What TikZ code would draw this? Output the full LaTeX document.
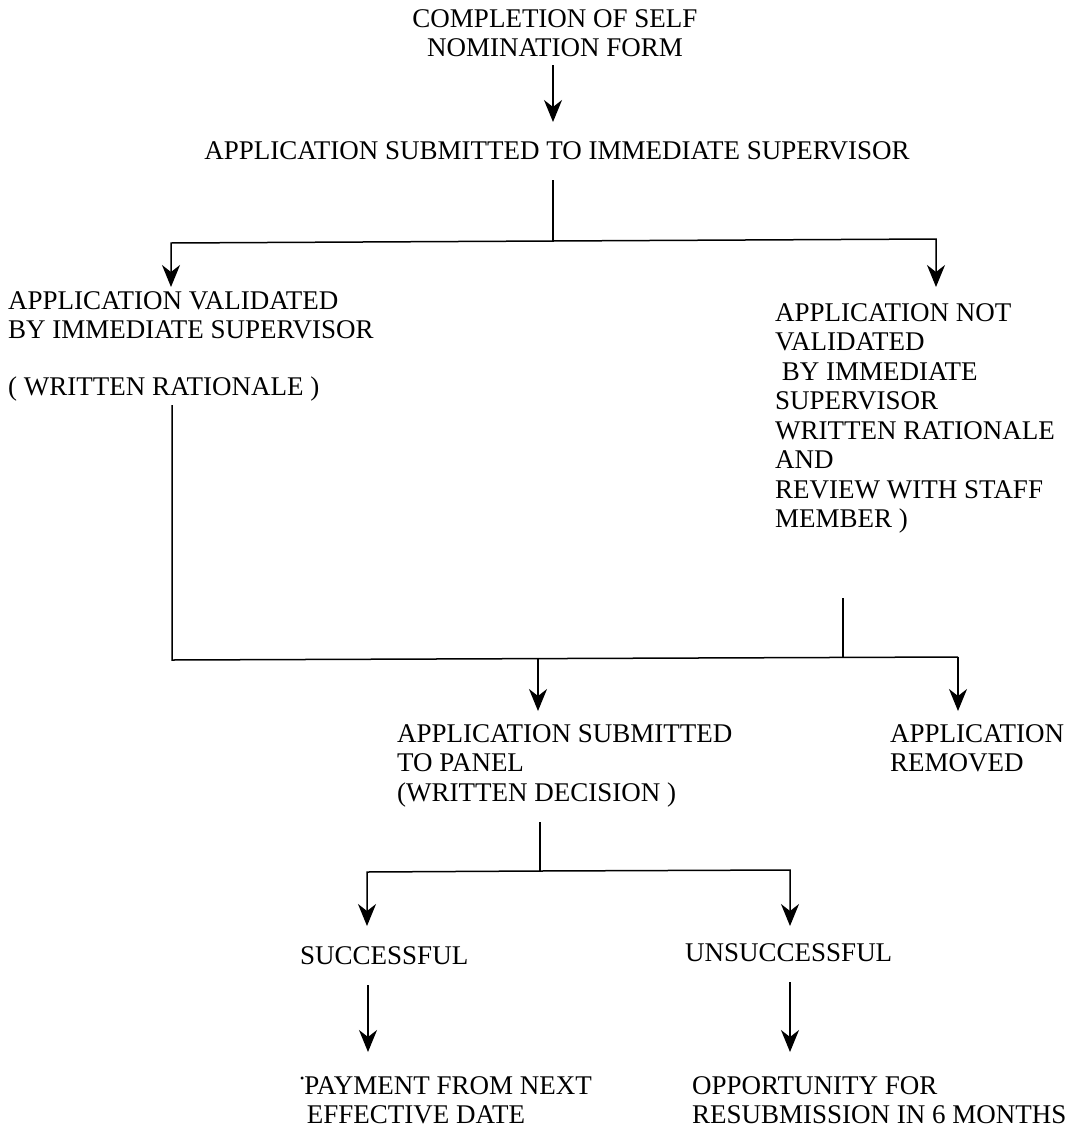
\documentclass[tikz,border=0pt]{standalone}
\usepackage{fontspec}
\setmainfont{Liberation Serif}
\usetikzlibrary{arrows.meta}
\begin{document}
\begin{tikzpicture}[x=1pt,y=-1pt,
  lbl/.style={inner sep=0pt,anchor=north west,align=left,font=\fontsize{27}{29.5}\selectfont},
  lblc/.style={inner sep=0pt,anchor=north,align=center,font=\fontsize{27}{29.5}\selectfont},
  ln/.style={line width=1.5pt},
  arr/.style={line width=1.5pt,-{Stealth[length=22pt,width=18pt,inset=7pt]}}]
\useasboundingbox (0,0) rectangle (1074,1130);
% nodes
\node[lblc] (n1) at (555,9) {COMPLETION OF SELF\\NOMINATION FORM};
\node[lblc] (n2) at (557,141) {APPLICATION SUBMITTED TO IMMEDIATE SUPERVISOR};
\node[lbl] (n3) at (8,291) {APPLICATION VALIDATED\\BY IMMEDIATE SUPERVISOR\\[27pt]( WRITTEN RATIONALE )};
\node[lbl] (n4) at (775,303) {APPLICATION NOT\\VALIDATED\\\ BY IMMEDIATE\\SUPERVISOR\\WRITTEN RATIONALE\\AND\\REVIEW WITH STAFF\\MEMBER )};
\node[lbl] (n5) at (397,724) {APPLICATION SUBMITTED\\TO PANEL\\(WRITTEN DECISION )};
\node[lbl] (n6) at (890,724) {APPLICATION\\REMOVED};
\node[lbl] (n7) at (300,946) {SUCCESSFUL};
\node[lbl] (n8) at (685,943) {UNSUCCESSFUL};
\node[lbl] (n9) at (300,1076) {\raisebox{12pt}{\fontsize{12}{12}\selectfont\textbullet}PAYMENT FROM NEXT\\\ EFFECTIVE DATE};
\node[lbl] (n10) at (692,1076) {OPPORTUNITY FOR\\RESUBMISSION IN 6 MONTHS};
% junction coordinates
\coordinate (a1) at (553,65);
\coordinate (a1e) at (553,122);
\coordinate (b0) at (553,180);
\coordinate (b1) at (553,241);
\coordinate (bl) at (171,243);
\coordinate (br) at (936,239);
\coordinate (blt) at (171,287);
\coordinate (brt) at (936,287);
\coordinate (c0) at (172,405);
\coordinate (c1) at (172,660);
\coordinate (cm) at (538,659);
\coordinate (cr) at (958,657);
\coordinate (cmt) at (538,711);
\coordinate (crt) at (958,711);
\coordinate (d0) at (843,598);
\coordinate (d1) at (843,658);
\coordinate (e0) at (540,822);
\coordinate (e1) at (540,871);
\coordinate (el) at (367,872);
\coordinate (er) at (790,870);
\coordinate (elt) at (367,926);
\coordinate (ert) at (790,926);
\coordinate (f1) at (368,985);
\coordinate (f1t) at (368,1052);
\coordinate (f2) at (790,982);
\coordinate (f2t) at (790,1052);
% connectors
\draw[arr] (a1) -- (a1e);
\draw[ln] (b0) -- (b1);
\draw[arr] (b1) -- (bl) -- (blt);
\draw[arr] (b1) -- (br) -- (brt);
\draw[ln] (c0) -- (c1) -- (cr);
\draw[arr] (cm) -- (cmt);
\draw[arr] (cr) -- (crt);
\draw[ln] (d0) -- (d1);
\draw[ln] (e0) -- (e1);
\draw[arr] (e1) -- (el) -- (elt);
\draw[arr] (e1) -- (er) -- (ert);
\draw[arr] (f1) -- (f1t);
\draw[arr] (f2) -- (f2t);
\end{tikzpicture}
\end{document}
